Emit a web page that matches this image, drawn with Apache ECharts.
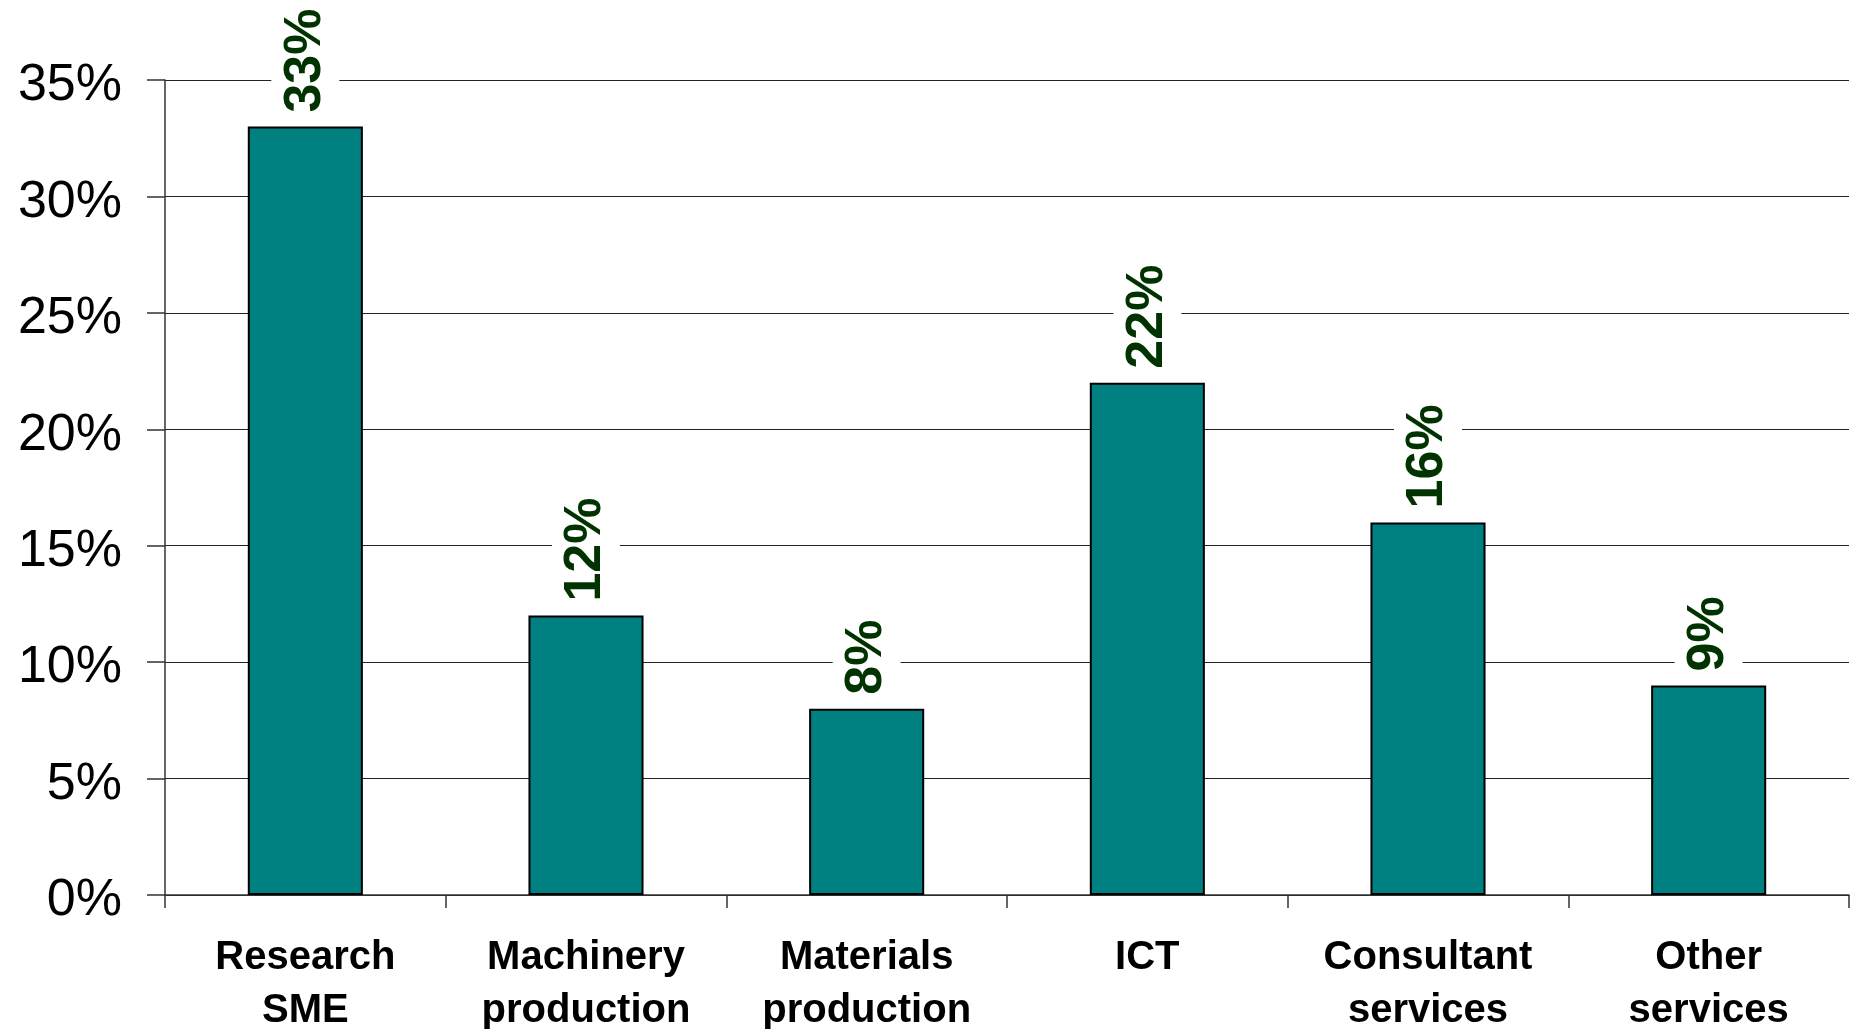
<!DOCTYPE html>
<html>
<head>
<meta charset="utf-8">
<script src="https://cdn.jsdelivr.net/npm/echarts@6/dist/echarts.min.js"></script>
<style>html,body{margin:0;padding:0;background:#fff}#c{width:1853px;height:1029px}</style>
</head>
<body>
<div id="c"></div>
<script>
const categories = ['Research\nSME', 'Machinery\nproduction', 'Materials\nproduction', 'ICT', 'Consultant\nservices', 'Other\nservices'];
const shares = [33, 12, 8, 22, 16, 9];
const yTicks = [0, 5, 10, 15, 20, 25, 30, 35];

const chart = echarts.init(document.getElementById('c'));
chart.setOption({
  animation: false,
  backgroundColor: '#fff',
  grid: { left: 165, right: 4, top: 80, bottom: 134, containLabel: false, outerBoundsMode: 'none' },
  xAxis: {
    type: 'category',
    data: categories,
    axisLine: { lineStyle: { color: '#333', width: 1.5 } },
    axisTick: { show: true, length: 13, lineStyle: { color: '#333', width: 1.5 } },
    axisLabel: {
      color: '#000', fontFamily: 'Liberation Sans, Arial, sans-serif',
      fontWeight: 'bold', fontSize: 40, lineHeight: 53, margin: 36, interval: 0
    }
  },
  yAxis: {
    type: 'value',
    min: yTicks[0], max: yTicks[yTicks.length - 1], interval: 5,
    axisLine: { show: true, lineStyle: { color: '#333', width: 1.5 } },
    axisTick: { show: true, length: 18, lineStyle: { color: '#333', width: 1.5 } },
    splitLine: { lineStyle: { color: '#222', width: 1 } },
    axisLabel: {
      margin: 43,
      formatter: v => '{a|' + v + '%}',
      rich: {
        a: {
          color: '#000', fontFamily: 'Liberation Sans, Arial, sans-serif',
          fontSize: 52, lineHeight: 52, padding: [12, 0, 0, 0]
        }
      }
    }
  },
  series: [{
    type: 'bar',
    data: shares,
    barWidth: '41%',
    itemStyle: { color: '#008080', borderColor: '#000', borderWidth: 2 },
    label: {
      show: true, position: 'top', rotate: 90, align: 'left', verticalAlign: 'middle',
      distance: 14, formatter: p => p.value + '%',
      color: '#003300', fontFamily: 'Liberation Sans, Arial, sans-serif',
      fontWeight: 'bold', fontSize: 52, lineHeight: 52,
      backgroundColor: '#fff', padding: [8, 0, 8, 0]
    }
  }]
});
</script>
</body>
</html>
